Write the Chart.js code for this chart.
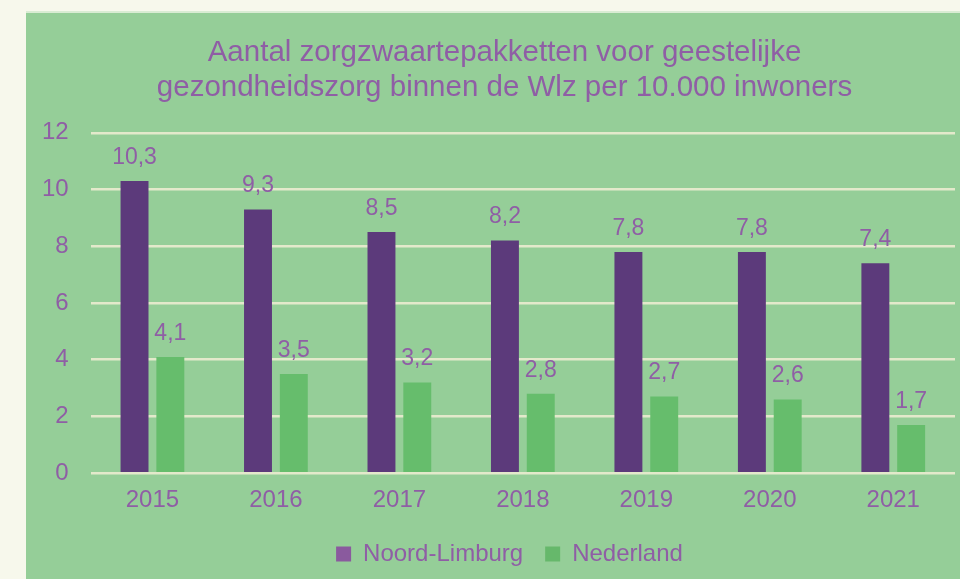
<!DOCTYPE html>
<html>
<head>
<meta charset="utf-8">
<script src="https://cdn.jsdelivr.net/npm/chart.js@4"></script>
<style>
  html, body { margin: 0; padding: 0; background: #f7f8ec; width: 960px; height: 579px; overflow: hidden; }
  #panel { position: absolute; left: 26px; top: 13px; width: 934px; height: 566px; background: #95ce98; box-shadow: 0 -2px 0 #d9ecd3; }
</style>
</head>
<body>
<div id="panel"><canvas id="chart" width="934" height="566"></canvas></div>
<script>
const years = ["2015", "2016", "2017", "2018", "2019", "2020", "2021"];
const noordLimburg = [10.3, 9.3, 8.5, 8.2, 7.8, 7.8, 7.4];
const nederland = [4.1, 3.5, 3.2, 2.8, 2.7, 2.6, 1.7];
const titleLines = ["Aantal zorgzwaartepakketten voor geestelijke", "gezondheidszorg binnen de Wlz per 10.000 inwoners"];

const TEXT = "#8f5ea5";
const FONT = '"Liberation Sans", Arial, sans-serif';
const GRID = "#e3e9cb";

// value labels above the bars, Dutch decimal comma
const barLabels = {
  id: "barLabels",
  afterDatasetsDraw(chart) {
    const ctx = chart.ctx;
    ctx.save();
    ctx.fillStyle = TEXT;
    ctx.font = `23px ${FONT}`;
    ctx.textAlign = "center";
    ctx.textBaseline = "bottom";
    chart.data.datasets.forEach((ds, i) => {
      chart.getDatasetMeta(i).data.forEach((bar, j) => {
        ctx.fillText(ds.data[j].toFixed(1).replace(".", ","), bar.x, bar.y - 12);
      });
    });
    ctx.restore();
  },
};

// original centres title and legend a little right of the canvas middle
const shiftBoxes = {
  id: "shiftBoxes",
  afterLayout(chart) {
    if (chart.titleBlock) { chart.titleBlock.left += 17; chart.titleBlock.right += 17; }
    if (chart.legend) { chart.legend.left += 22; chart.legend.right += 22; }
  },
};

new Chart(document.getElementById("chart").getContext("2d"), {
  type: "bar",
  data: {
    labels: years,
    datasets: [
      { label: "Noord-Limburg", data: noordLimburg, backgroundColor: "#5c3a7b", legendColor: "#8a5a9e",
        categoryPercentage: 0.58, barPercentage: 0.78 },
      { label: "Nederland", data: nederland, backgroundColor: "#66bd6c", legendColor: "#66b86b",
        categoryPercentage: 0.58, barPercentage: 0.78 },
    ],
  },
  options: {
    responsive: false,
    animation: false,
    layout: { padding: { left: -6, right: 5, top: 0, bottom: 3 } },
    scales: {
      x: {
        grid: { display: false },
        border: { display: false },
        ticks: { color: TEXT, font: { family: FONT, size: 24 }, padding: 5 },
      },
      y: {
        min: 0, max: 12,
        ticks: { stepSize: 2, color: TEXT, font: { family: FONT, size: 24 }, padding: 22 },
        grid: { color: GRID, lineWidth: 2.5, drawTicks: false },
        border: { display: false },
      },
    },
    plugins: {
      title: {
        display: true,
        text: titleLines,
        color: TEXT,
        font: { family: FONT, size: 29.5, weight: "normal", lineHeight: 1.2 },
        padding: { top: 22, bottom: 27 },
      },
      legend: {
        position: "bottom",
        labels: {
          color: TEXT,
          font: { family: FONT, size: 24 },
          boxWidth: 15,
          boxHeight: 15,
          padding: 22,
          generateLabels(chart) {
            const items = Chart.defaults.plugins.legend.labels.generateLabels(chart);
            items.forEach((it) => {
              it.fillStyle = chart.data.datasets[it.datasetIndex].legendColor;
              it.strokeStyle = it.fillStyle;
              it.lineWidth = 0;
            });
            return items;
          },
        },
      },
      tooltip: { enabled: false },
    },
  },
  plugins: [barLabels, shiftBoxes],
});
</script>
</body>
</html>
